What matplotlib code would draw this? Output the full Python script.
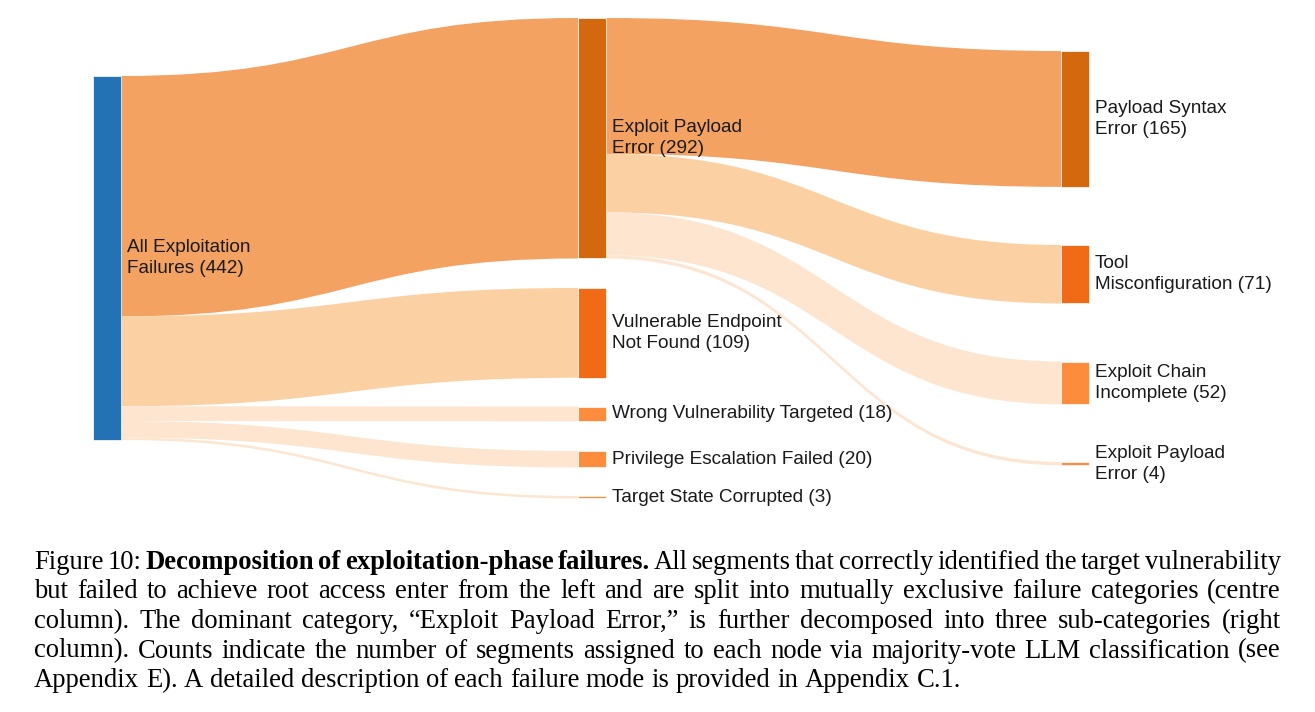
import numpy as np
import matplotlib
matplotlib.use("Agg")
import matplotlib.pyplot as plt
from matplotlib.path import Path
from matplotlib.patches import PathPatch, Rectangle

# sankey data
node_labels = ["All Exploitation\nFailures (442)",
               "Exploit Payload\nError (292)",
               "Vulnerable Endpoint\nNot Found (109)",
               "Wrong Vulnerability Targeted (18)",
               "Privilege Escalation Failed (20)",
               "Target State Corrupted (3)",
               "Payload Syntax\nError (165)",
               "Tool\nMisconfiguration (71)",
               "Exploit Chain\nIncomplete (52)",
               "Exploit Payload\nError (4)"]
node_values = [442, 292, 109, 18, 20, 3, 165, 71, 52, 4]
link_source = [0, 0, 0, 0, 0, 1, 1, 1, 1]
link_target = [1, 2, 3, 4, 5, 6, 7, 8, 9]
link_values = [292, 109, 18, 20, 3, 165, 71, 52, 4]

caption_lines = [
    [("Figure 10:", False), ("Decomposition of exploitation-phase failures.", True),
     ("All segments that correctly identified the target vulnerability", False)],
    [("but failed to achieve root access enter from the left and are split into mutually exclusive failure categories (centre", False)],
    [("column).  The dominant category, \u201cExploit Payload Error,\u201d is further decomposed into three sub-categories (right", False)],
    [("column). Counts indicate the number of segments assigned to each node via majority-vote LLM classification (see", False)],
    [("Appendix E). A detailed description of each failure mode is provided in Appendix C.1.", False)],
]

# layout (pixels)
node_col = [0, 1, 1, 1, 1, 1, 2, 2, 2, 2]
col_x = [93, 578, 1061]
node_w = 28
node_top = [76, 18, 288, 406.5, 451, 496, 51, 245, 361.5, 462]
px_per_unit = 364 / 442

node_colors = ["#2372b6", "#d4680e", "#f16a15", "#fd8d3c", "#fd8d3c", "#fd8d3c",
               "#d4680e", "#f16a15", "#fd8d3c", "#fd8d3c"]
link_colors = ["#f4a262", "#fbd0a2", "#fde5cf", "#fde5cf", "#fde5cf",
               "#f4a262", "#fbd0a2", "#fde5cf", "#fde5cf"]

fig = plt.figure(figsize=(13.15, 7.12), dpi=100)
ax = fig.add_axes([0, 0, 1, 1])
ax.set_xlim(0, 1315)
ax.set_ylim(712, 0)
ax.axis("off")


def ribbon(x0, y0, x1, y1, w, color):
    xm = (x0 + x1) / 2
    verts = [(x0, y0), (xm, y0), (xm, y1), (x1, y1),
             (x1, y1 + w), (xm, y1 + w), (xm, y0 + w), (x0, y0 + w), (x0, y0)]
    codes = [Path.MOVETO, Path.CURVE4, Path.CURVE4, Path.CURVE4,
             Path.LINETO, Path.CURVE4, Path.CURVE4, Path.CURVE4, Path.CLOSEPOLY]
    ax.add_patch(PathPatch(Path(verts, codes), facecolor=color, edgecolor="none", zorder=1))


out_off = [0.0] * len(node_values)
in_off = [0.0] * len(node_values)
for s, t, v, c in zip(link_source, link_target, link_values, link_colors):
    w = v * px_per_unit
    x0 = col_x[node_col[s]] + node_w
    x1 = col_x[node_col[t]]
    y0 = node_top[s] + out_off[s]
    y1 = node_top[t] + in_off[t]
    ribbon(x0, y0, x1, y1, w, c)
    out_off[s] += w
    in_off[t] += w

for i, v in enumerate(node_values):
    h = v * px_per_unit
    x = col_x[node_col[i]]
    ax.add_patch(Rectangle((x, node_top[i]), node_w, h, facecolor=node_colors[i],
                           edgecolor="white", linewidth=0.5, zorder=2))
    ax.text(x + node_w + 6, node_top[i] + h / 2, node_labels[i], fontsize=13.7,
            family="Liberation Sans", color="#1a1a1a", va="center", ha="left",
            linespacing=1.3, zorder=3)

# caption, justified like the latex figure caption
renderer = fig.canvas.get_renderer()
serif = "Liberation Serif"


def text_w(s, bold, fs):
    t = ax.text(0, 0, s, fontsize=fs, family=serif,
                fontweight="bold" if bold else "normal")
    w = t.get_window_extent(renderer).width
    t.remove()
    return w


cap_left, cap_right = 34, 1281
last = caption_lines[-1][0][0]
fs = 10 * (955 - cap_left) / text_w(last, False, 10)
space = text_w("a b", False, fs) - text_w("ab", False, fs)

for li, line in enumerate(caption_lines):
    words = []
    for seg, bold in line:
        for wd in seg.split():
            words.append((wd, bold))
    widths = [text_w(wd, b, fs) for wd, b in words]
    if li < len(caption_lines) - 1:
        gap = (cap_right - cap_left - sum(widths)) / (len(words) - 1)
    else:
        gap = space
    x = cap_left
    y = 569 + li * 29.5
    for (wd, b), w in zip(words, widths):
        ax.text(x, y, wd, fontsize=fs, family=serif, color="black",
                fontweight="bold" if b else "normal", va="baseline", ha="left")
        x += w + gap

fig.savefig("out.png", dpi=100)
